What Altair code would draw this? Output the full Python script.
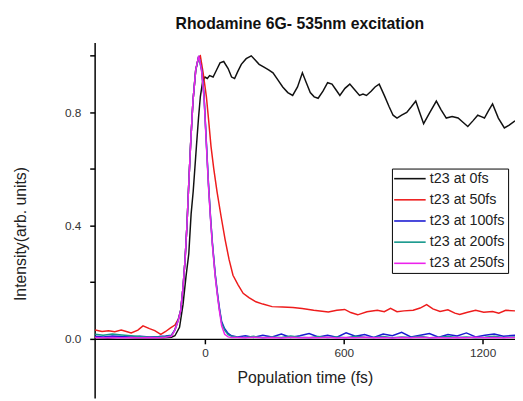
import altair as alt
import pandas as pd

series_names = ["t23 at 0fs", "t23 at 50fs", "t23 at 100fs", "t23 at 200fs", "t23 at 250fs"]
series_colors = ["#111111", "#ee1c1c", "#1a1ad2", "#12968a", "#ec22ec"]

# t23 = 0 fs (black)
x_black = [-475, -420, -360, -300, -240, -180, -145, -130, -110, -95,
           -82, -70, -60, -51, -44, -37, -28, -20, -10, 0,
           10, 20, 35, 50, 65, 81, 100, 115, 128, 142,
           157, 178, 200, 217, 234, 255, 275, 294, 315, 336,
           358, 379, 400, 421, 438, 455, 472, 489, 510, 530,
           549, 566, 583, 605, 626, 647, 668, 683, 698, 718,
           735, 753, 775, 796, 813, 830, 850, 872, 892, 911,
           928, 945, 972, 1000, 1020, 1043, 1068, 1094, 1115, 1136,
           1158, 1179, 1194, 1208, 1225, 1243, 1268, 1294, 1315, 1340]
y_black = [0.004, 0.002, 0.005, 0.003, 0.004, 0.003, 0.005, 0.01, 0.04, 0.12,
           0.22, 0.3, 0.44, 0.52, 0.6, 0.68, 0.78, 0.856, 0.91, 0.925,
           0.92, 0.93, 0.925, 0.95, 0.975, 0.98, 0.955, 0.925, 0.92, 0.945,
           0.97, 0.99, 1.0, 0.985, 0.97, 0.96, 0.95, 0.94, 0.915, 0.89,
           0.87, 0.86, 0.89, 0.94, 0.905, 0.87, 0.855, 0.85, 0.875, 0.905,
           0.9, 0.88, 0.86, 0.885, 0.9, 0.88, 0.86, 0.865, 0.86, 0.875,
           0.89, 0.9, 0.86, 0.82, 0.79, 0.78, 0.79, 0.8, 0.82, 0.84,
           0.8, 0.76, 0.8, 0.84, 0.81, 0.78, 0.785, 0.78, 0.765, 0.75,
           0.77, 0.79, 0.785, 0.78, 0.805, 0.83, 0.78, 0.745, 0.755, 0.77]

# t23 = 50 fs (red)
x_red = [-475, -445, -417, -390, -362, -340, -319, -290, -268, -240,
         -217, -191, -170, -149, -130, -115, -105, -95, -86, -78,
         -70, -62, -52, -40, -28, -20, -8, 6, 16, 26,
         38, 52, 70, 87, 104, 121, 143, 165, 190, 220,
         250, 290, 335, 380, 420, 470, 533, 570, 604, 630,
         660, 700, 745, 775, 802, 830, 860, 900, 930, 958,
         985, 1016, 1050, 1080, 1101, 1135, 1170, 1205, 1243, 1270,
         1300, 1340]
y_red = [0.03, 0.025, 0.028, 0.024, 0.03, 0.025, 0.02, 0.03, 0.045, 0.035,
         0.028, 0.015, 0.025, 0.038, 0.048, 0.07, 0.1, 0.18, 0.28, 0.4,
         0.55, 0.69, 0.84, 0.95, 0.995, 1.0, 0.94, 0.856, 0.77, 0.68,
         0.6, 0.52, 0.43, 0.35, 0.28, 0.224, 0.19, 0.16, 0.145, 0.13,
         0.122, 0.113, 0.112, 0.11, 0.106, 0.1, 0.094, 0.1, 0.103, 0.092,
         0.084, 0.095, 0.1, 0.095, 0.107, 0.095, 0.098, 0.1, 0.108, 0.12,
         0.105, 0.096, 0.102, 0.09, 0.085, 0.093, 0.1, 0.093, 0.096, 0.09,
         0.1, 0.098]

# pulse region shared by 100/200/250 fs
x_peak = [-475, -440, -400, -360, -320, -280, -240, -200, -170, -145,
          -130, -115, -105, -95, -86, -78, -70, -62, -52, -40,
          -27, -15, -4, 5, 15, 24, 32, 44, 54, 62,
          72, 85, 100, 115]
y_blue_peak = [0.008, 0.006, 0.009, 0.007, 0.006, 0.008, 0.006, 0.007, 0.009, 0.012,
               0.032, 0.068, 0.1, 0.18, 0.28, 0.4, 0.55, 0.69, 0.84, 0.95,
               1.0, 0.955, 0.86, 0.71, 0.55, 0.43, 0.34, 0.23, 0.16, 0.11,
               0.06, 0.035, 0.018, 0.01]
y_teal_peak = [0.015, 0.012, 0.016, 0.013, 0.01, 0.007, 0.005, 0.006, 0.007, 0.01,
               0.03, 0.066, 0.1, 0.18, 0.28, 0.4, 0.55, 0.69, 0.84, 0.95,
               0.995, 0.95, 0.855, 0.705, 0.545, 0.425, 0.335, 0.225, 0.155, 0.105,
               0.055, 0.03, 0.014, 0.008]
y_mag_peak = [0.004, 0.003, 0.004, 0.003, 0.004, 0.003, 0.004, 0.003, 0.005, 0.008,
              0.03, 0.065, 0.1, 0.18, 0.28, 0.4, 0.55, 0.69, 0.84, 0.95,
              1.0, 0.95, 0.85, 0.7, 0.54, 0.42, 0.33, 0.22, 0.15, 0.1,
              0.045, 0.015, 0.006, 0.004]

# flat tails after the pulse
x_tail = [140, 175, 210, 250, 290, 330, 370, 410, 450, 490,
          530, 570, 610, 650, 690, 730, 770, 810, 850, 890,
          930, 970, 1010, 1050, 1090, 1130, 1170, 1210, 1250, 1290, 1340]
y_blue_tail = [0.006, 0.01, 0.004, 0.012, 0.006, 0.016, 0.004, 0.01, 0.018, 0.006,
               0.012, 0.005, 0.02, 0.008, 0.014, 0.004, 0.016, 0.01, 0.022, 0.006,
               0.012, 0.018, 0.005, 0.014, 0.009, 0.02, 0.006, 0.012, 0.016, 0.008, 0.012]
y_teal_tail = [0.005, 0.004, 0.008, 0.003, 0.006, 0.004, 0.009, 0.005, 0.003, 0.007,
               0.004, 0.006, 0.003, 0.008, 0.005, 0.004, 0.007, 0.003, 0.006, 0.004,
               0.008, 0.003, 0.005, 0.007, 0.004, 0.006, 0.003, 0.005, 0.008, 0.004, 0.006]
y_mag_tail = [0.004, 0.003, 0.005, 0.003, 0.004, 0.002, 0.005, 0.003, 0.004, 0.003,
              0.005, 0.002, 0.004, 0.003, 0.005, 0.003, 0.004, 0.002, 0.004, 0.003,
              0.005, 0.003, 0.004, 0.002, 0.004, 0.003, 0.005, 0.003, 0.004, 0.003, 0.004]

rows = []
def add(name, xs, ys):
    for a, b in zip(xs, ys):
        rows.append({"series": name, "t": a, "I": b, "k": len(rows)})

add(series_names[0], x_black, y_black)
add(series_names[1], x_red, y_red)
add(series_names[2], x_peak + x_tail, y_blue_peak + y_blue_tail)
add(series_names[3], x_peak + x_tail, y_teal_peak + y_teal_tail)
add(series_names[4], x_peak + x_tail, y_mag_peak + y_mag_tail)
df = pd.DataFrame(rows)

FONT = "Liberation Sans"

chart = alt.Chart(df).mark_line(strokeWidth=1.5, clip=True).encode(
    x=alt.X("t:Q",
            scale=alt.Scale(domain=[-477, 1340], nice=False, zero=False),
            axis=alt.Axis(values=[0, 600, 1200], format="d", title="Population time (fs)",
                          offset=-60, grid=False, tickSize=5, labelPadding=4,
                          titlePadding=11)),
    y=alt.Y("I:Q",
            scale=alt.Scale(domain=[-0.21, 1.047], nice=False, zero=False),
            axis=alt.Axis(values=[0, 0.2, 0.4, 0.6, 0.8, 1.0],
                          labelExpr="indexof([0, 0.4, 0.8], datum.value) >= 0 ? format(datum.value, '.1f') : ''",
                          title="Intensity(arb. units)", grid=False, tickSize=5,
                          labelPadding=9, titlePadding=37, titleY=194)),
    color=alt.Color("series:N",
                    scale=alt.Scale(domain=series_names, range=series_colors),
                    sort=series_names,
                    legend=alt.Legend(title=None, orient="none", legendX=302, legendY=128,
                                      symbolType="M-3.2,0H3.2", symbolSize=100,
                                      symbolStrokeWidth=1.6, symbolOffset=8,
                                      labelOffset=13, labelFontSize=14.5, labelFont=FONT,
                                      labelColor="#222", rowPadding=6.5, padding=3,
                                      strokeColor="black", fillColor="white")),
    order="k:Q",
).properties(
    width=427, height=361,
    title=alt.TitleParams("Rhodamine 6G- 535nm excitation", fontSize=16, font=FONT,
                          fontWeight="bold", offset=11, dx=-5, color="#111"),
    autosize=alt.AutoSizeParams(type="none"),
    padding={"left": 88, "top": 32, "right": 0, "bottom": 0},
).configure_view(stroke=None).configure_axis(
    domainColor="black", domainWidth=1.5, tickColor="black", tickWidth=1.5,
    labelFont=FONT, labelFontSize=12, labelColor="#333",
    titleFont=FONT, titleFontSize=16, titleFontWeight="normal", titleColor="#222",
)

chart.save("out.html", embed_options={"renderer": "svg", "actions": False})
